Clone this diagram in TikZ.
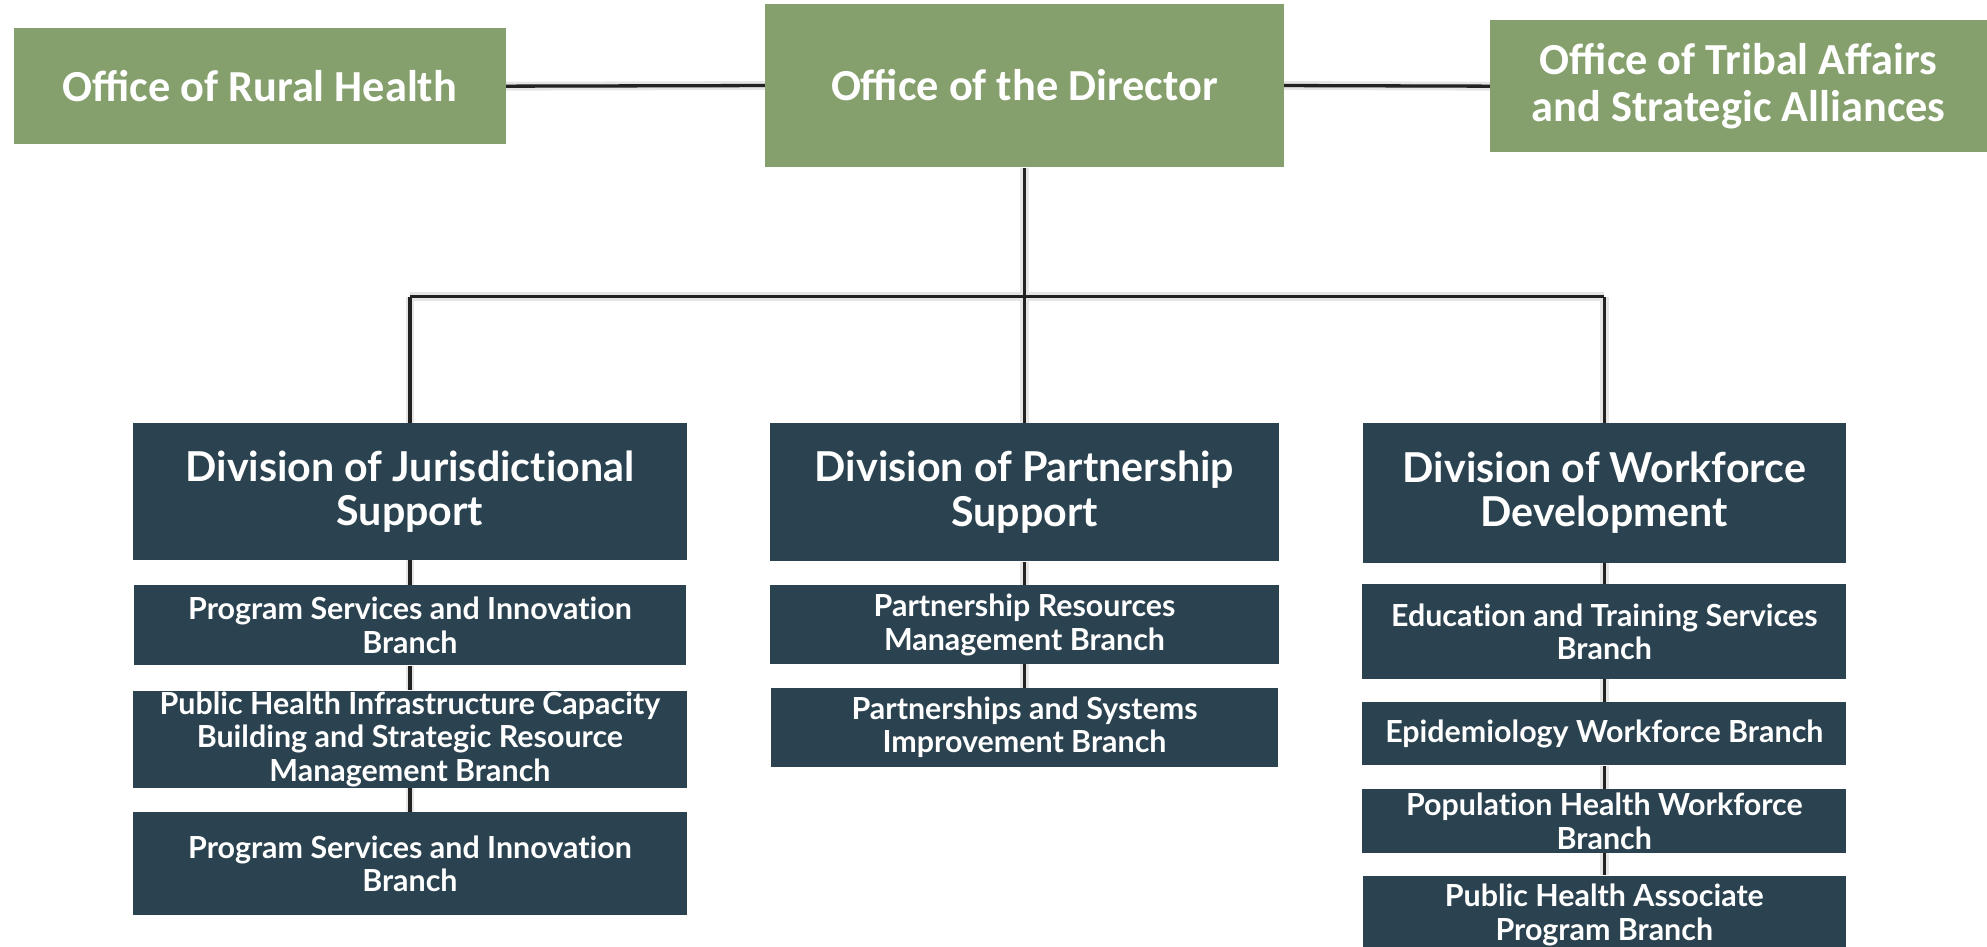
\documentclass[tikz,border=0pt]{standalone}
\usepackage{fontspec}
\setmainfont{Lato}[Ligatures={NoCommon}]
\newfontfamily\topfont{Carlito}
\usetikzlibrary{positioning}
\definecolor{offgreen}{RGB}{133,160,108}
\definecolor{divnavy}{RGB}{43,67,80}
\definecolor{linegray}{RGB}{34,34,34}
\pgfdeclarelayer{bg}
\pgfsetlayers{bg,main}
\tikzset{
  office/.style={fill=offgreen, text=white, inner sep=0pt, align=center,
    font=\topfont\bfseries\fontsize{35}{37}\selectfont},
  division/.style={fill=divnavy, text=white, inner sep=0pt, align=center,
    font=\bfseries\fontsize{32.5}{35}\selectfont},
  branch/.style={fill=divnavy, text=white, inner sep=0pt, align=center,
    font=\bfseries\fontsize{24}{26.5}\selectfont},
  conn/.style={draw=linegray, line width=2.6pt},
  shadowA/.style={draw=black!10, line width=7pt, shift={(3.5,3.5)}},
  shadowB/.style={draw=black!22, line width=2.5pt, shift={(2.6,2.6)}},
}
\newcommand{\boxat}[6]{% name, style, cx, cy, w, h, text
  \node[#2, minimum width=#5pt, minimum height=#6pt] (#1) at (#3,#4)}
\begin{document}
\begin{tikzpicture}[x=1pt,y=-1pt]
\useasboundingbox (0,0) rectangle (1568,747);
% top row
\boxat{rural}{office}{205}{68}{388}{92} {Office of Rural Health};
\boxat{dir}{office}{808.5}{67.5}{409}{129} {Office of the Director};
\boxat{tribal}{office}{1372}{68}{392}{104} {Office of Tribal Affairs\\and Strategic Alliances};
% divisions
\boxat{djs}{division}{323.5}{388}{437}{108} {Division of Jurisdictional\\Support};
\boxat{dps}{division}{808.5}{388.5}{401}{109} {Division of Partnership\\Support};
\boxat{dwd}{division}{1266}{389}{381}{110} {Division of Workforce\\Development};
% left branches
\boxat{lb1}{branch}{323.5}{493.5}{436}{63} {Program Services and Innovation\\Branch};
\boxat{lb2}{branch}{323.5}{583.5}{437}{77} {Public Health Infrastructure Capacity\\Building and Strategic Resource\\Management Branch};
\boxat{lb3}{branch}{323.5}{681.5}{437}{81} {Program Services and Innovation\\Branch};
% middle branches
\boxat{mb1}{branch}{808.5}{493}{402}{62} {Partnership Resources\\Management Branch};
\boxat{mb2}{branch}{808.5}{574}{400}{62} {Partnerships and Systems\\Improvement Branch};
% right branches
\boxat{rb1}{branch}{1266}{498.5}{382}{75} {Education and Training Services\\Branch};
\boxat{rb2}{branch}{1266}{579}{382}{50} {Epidemiology Workforce Branch};
\boxat{rb3}{branch}{1266}{648}{382}{50} {Population Health Workforce\\Branch};
\boxat{rb4}{branch}{1266}{722}{381}{62} {Public Health Associate\\Program Branch};
% bus coordinates
\coordinate (busM) at (808.5,234);
\coordinate (busL) at (323.5,234);
\coordinate (busR) at (1266,234);
\begin{pgfonlayer}{bg}
  \foreach \s in {shadowA,shadowB,conn}{
    \draw[\s] (rural.east) -- (dir.west);
    \draw[\s] (dir.east) -- (tribal.west);
    \draw[\s] (dir.south) -- (busM);
    \draw[\s] (busL) -- (busR);
    \draw[\s] (busL) -- (djs.north);
    \draw[\s] (busM) -- (dps.north);
    \draw[\s] (busR) -- (dwd.north);
    \draw[\s] (djs.south) -- (lb1.north);
    \draw[\s] (lb1.south) -- (lb2.north);
    \draw[\s] (lb2.south) -- (lb3.north);
    \draw[\s] (dps.south) -- (mb1.north);
    \draw[\s] (mb1.south) -- (mb2.north);
    \draw[\s] (dwd.south) -- (rb1.north);
    \draw[\s] (rb1.south) -- (rb2.north);
    \draw[\s] (rb2.south) -- (rb3.north);
    \draw[\s] (rb3.south) -- (rb4.north);
  }
\end{pgfonlayer}
\end{tikzpicture}
\end{document}
